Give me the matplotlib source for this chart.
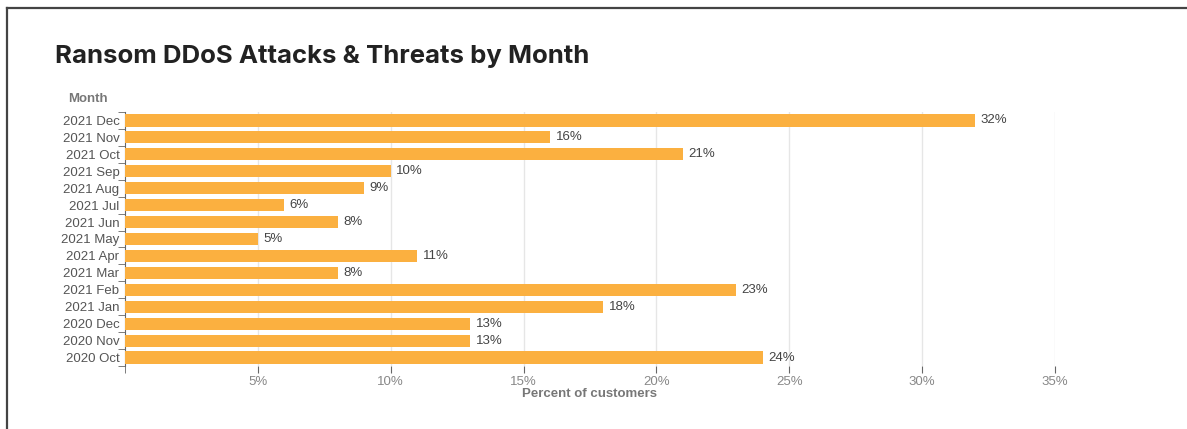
import matplotlib.pyplot as plt
from matplotlib.lines import Line2D

months = ['2021 Dec', '2021 Nov', '2021 Oct', '2021 Sep', '2021 Aug', '2021 Jul',
          '2021 Jun', '2021 May', '2021 Apr', '2021 Mar', '2021 Feb', '2021 Jan',
          '2020 Dec', '2020 Nov', '2020 Oct']
percent = [32, 16, 21, 10, 9, 6, 8, 5, 11, 8, 23, 18, 13, 13, 24]
xticks = [5, 10, 15, 20, 25, 30, 35]

plt.rcParams['font.family'] = ['Liberation Sans', 'DejaVu Sans']

W, H = 1187, 429
fig = plt.figure(figsize=(W / 100, H / 100), dpi=100)
ax = fig.add_axes([125 / W, 1 - 366 / H, (1055 - 125) / W, (366 - 112) / H])

# card frame (left and top edge)
fig.add_artist(Line2D([6.5 / W, 6.5 / W], [0, 1 - 8 / H], color='#444444', lw=1.6))
fig.add_artist(Line2D([6.5 / W, 1], [1 - 8 / H, 1 - 8 / H], color='#444444', lw=1.6))

ypos = list(range(len(months)))
ax.barh(ypos, percent, height=0.72, color='#fbb040', zorder=3)
for y, v in zip(ypos, percent):
    ax.text(v + 0.2, y, f'{v}%', va='center', ha='left', fontsize=9.5, color='#444444')

ax.set_xlim(0, 35)
ax.set_ylim(len(months) - 0.5, -0.5)

ax.set_xticks(xticks)
ax.set_xticklabels([f'{t}%' for t in xticks], fontsize=9.5, color='#888888')
ax.set_xticks([0], minor=True)
ax.xaxis.grid(True, color='#e6e6e6', lw=1, zorder=0)
ax.tick_params(axis='x', which='both', length=5, color='#666666', pad=2)

ax.set_yticks(ypos)
ax.set_yticklabels(months, fontsize=9.5, color='#555555')
ax.set_yticks([i - 0.5 for i in range(len(months) + 1)], minor=True)
ax.tick_params(axis='y', which='major', length=0, pad=4)
ax.tick_params(axis='y', which='minor', length=5, color='#666666')

for side in ['top', 'right', 'bottom']:
    ax.spines[side].set_visible(False)
ax.spines['left'].set_color('#666666')

ax.set_xlabel('Percent of customers', fontsize=9.5, fontweight='bold', color='#777777', labelpad=0)
fig.text(68 / W, 1 - 99 / H, 'Month', fontsize=9.5, fontweight='bold', color='#777777', va='center', ha='left')

fig.text(55 / W, 1 - 57 / H, 'Ransom DDoS Attacks & Threats by Month', fontsize=18.5,
         fontweight='bold', color='#222222', va='center', ha='left', family=['Inter', 'DejaVu Sans'])

fig.savefig('out.png', dpi=100)
